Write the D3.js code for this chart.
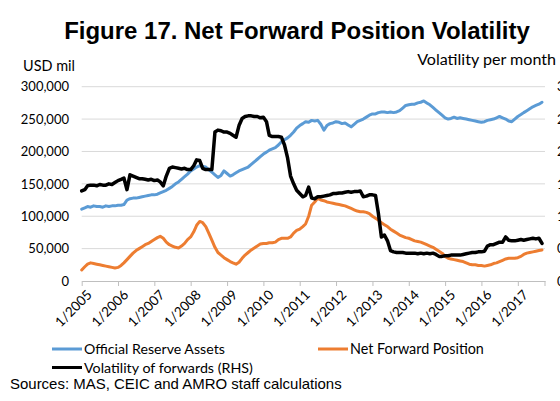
<!DOCTYPE html>
<html><head><meta charset="utf-8">
<script src="https://cdn.jsdelivr.net/npm/d3@7"></script>
<style>
html,body{margin:0;padding:0;background:#fff;}
svg{display:block;}
</style></head>
<body>
<svg id="chart" width="560" height="401"></svg>
<script>
// ---- Data (monthly, Jan 2005 - Sep 2017) ----
const startYear = 2005;
const reserveAssets = [ // USD bn (x1000 = USD mil)
  111,113,115,114,116,115,115,114,116,115,116,116,
  117,117,118,125,127,128,128,129,130,131,132,133,
  133,134,136,138,140,143,146,150,153,157,161,165,
  170,173,176,178,177,176,172,168,164,160,163,170,
  166,162,164,167,170,172,174,176,180,184,188,192,
  196,199,202,204,206,210,215,218,221,225,230,236,
  240,243,246,245,248,247,248,242,233,240,243,244,
  246,245,243,244,241,238,242,246,248,250,253,256,
  258,258,260,261,261,260,261,260,261,263,267,271,
  272,273,273,275,276,278,275,272,268,264,260,256,
  252,250,251,253,251,252,251,250,249,248,247,246,
  245,246,248,249,250,252,254,252,250,247,246,250,
  254,257,260,263,266,269,271,273,276
];
const netForward = [
  17,22,26,28,27,26,25,24,23,22,21,20,
  21,24,28,33,38,43,47,50,53,56,58,61,
  64,67,69,66,60,56,54,52,51,54,58,64,
  68,76,86,92,90,84,74,63,52,44,40,36,
  33,30,28,26,29,35,40,44,48,51,54,57,
  58,58,59,59,60,64,66,66,66,68,74,78,
  80,84,88,100,117,122,128,125,124,122,121,120,
  119,118,117,116,114,112,110,108,107,107,106,104,
  100,97,94,90,87,84,80,77,74,71,69,67,
  66,64,62,61,60,58,56,54,52,49,46,43,
  38,35,34,33,32,31,30,28,26,25,25,24,
  24,23,24,25,27,28,30,32,34,35,35,35,
  36,38,41,43,44,45,46,47,48
];
const volatility = [ // RHS
  1.39,1.41,1.47,1.48,1.48,1.47,1.49,1.48,1.48,1.50,1.49,1.52,
  1.55,1.57,1.59,1.41,1.64,1.62,1.60,1.58,1.58,1.57,1.56,1.57,
  1.55,1.56,1.53,1.47,1.62,1.74,1.76,1.75,1.74,1.73,1.74,1.72,
  1.72,1.78,1.87,1.86,1.74,1.72,1.72,1.72,2.30,2.33,2.32,2.30,
  2.30,2.28,2.25,2.22,2.40,2.51,2.54,2.55,2.55,2.54,2.54,2.52,
  2.53,2.46,2.25,2.23,2.23,2.23,2.22,2.10,1.90,1.62,1.50,1.40,
  1.35,1.30,1.32,1.45,1.28,1.27,1.30,1.30,1.31,1.32,1.33,1.35,
  1.35,1.36,1.36,1.37,1.38,1.37,1.38,1.38,1.39,1.30,1.31,1.33,
  1.33,1.32,1.05,0.68,0.71,0.62,0.47,0.45,0.44,0.44,0.44,0.43,
  0.43,0.43,0.43,0.42,0.43,0.42,0.43,0.42,0.43,0.41,0.38,0.38,
  0.39,0.39,0.40,0.40,0.40,0.40,0.41,0.42,0.43,0.44,0.44,0.45,
  0.45,0.46,0.54,0.56,0.56,0.58,0.60,0.60,0.68,0.63,0.62,0.62,
  0.63,0.64,0.63,0.64,0.65,0.66,0.65,0.66,0.58
];
const leftTicks = [0,50000,100000,150000,200000,250000,300000];
const rightTicks = [0,0.5,1,1.5,2,2.5,3];
const tickYears = [2005,2006,2007,2008,2009,2010,2011,2012,2013,2014,2015,2016,2017];
const seriesNames = ["Official Reserve Assets","Net Forward Position","Volatility of forwards (RHS)"];
const colors = ["#5b9bd5","#ed7d31","#000000"];
const title = "Figure 17. Net Forward Position Volatility";
const source = "Sources: MAS, CEIC and AMRO staff calculations";

// ---- Build ----
const svg = d3.select("#chart");
const font = "Lato, 'Noto Sans', sans-serif";
const dates = reserveAssets.map((d,i)=>new Date(startYear, i, 1));
const x = d3.scaleTime().domain([new Date(2005,0,1), new Date(2017,9,1)]).range([81.7,545]);
const yL = d3.scaleLinear().domain([0,300000]).range([281,86.7]);
const yR = d3.scaleLinear().domain([0,3]).range([281,86.7]);

function fit(sel, w){ const cw = sel.node().getComputedTextLength(); const fs = +sel.attr("font-size"); sel.attr("font-size", fs*w/cw); }

// title
const t = svg.append("text").attr("x",297).attr("y",38.5).attr("text-anchor","middle")
  .attr("font-family","'Liberation Sans', Arial, sans-serif").attr("font-weight","bold")
  .attr("font-size",21).attr("fill","#000").text(title);
fit(t, 466);

const u = svg.append("text").attr("x",23).attr("y",70.5).attr("font-family",font).attr("font-size",14).attr("fill","#000").text("USD mil");
fit(u, 52);
const v = svg.append("text").attr("x",556).attr("y",65).attr("text-anchor","end").attr("font-family",font).attr("font-size",14).attr("fill","#000").text("Volatility per month");
fit(v, 139);

// gridlines
svg.append("g").selectAll("line").data(leftTicks.slice(1)).join("line")
  .attr("x1",81.7).attr("x2",545).attr("y1",d=>yL(d)).attr("y2",d=>yL(d))
  .attr("stroke","#d9d9d9").attr("stroke-width",1);

// x axis
const xAxis = d3.axisBottom(x).tickValues(tickYears.map(yr=>new Date(yr,0,1)))
  .tickFormat(d=>"1/"+d.getFullYear()).tickSize(5).tickSizeOuter(0);
const gx = svg.append("g").attr("transform","translate(0,281)").call(xAxis);
gx.select(".domain").attr("stroke","#bfbfbf");
gx.selectAll(".tick line").attr("stroke","#bfbfbf");
gx.append("line").attr("x1",545).attr("x2",545).attr("y1",0).attr("y2",5).attr("stroke","#bfbfbf");
gx.selectAll(".tick text").attr("font-family",font).attr("font-size",13.5).attr("fill","#000")
  .attr("text-anchor","end").attr("dx",0).attr("dy",0)
  .attr("transform","translate(5,9) rotate(-45)");

// left axis
const gl = svg.append("g").attr("transform","translate(70,0)")
  .call(d3.axisLeft(yL).tickValues(leftTicks).tickFormat(d3.format(",")).tickSize(0));
gl.select(".domain").remove();
gl.selectAll("text").attr("font-family",font).attr("font-size",13).attr("fill","#000").attr("x",-1);

// right axis (clipped at chart edge as in reference)
const gr = svg.append("g").attr("transform","translate(556,0)")
  .call(d3.axisRight(yR).tickValues(rightTicks).tickFormat(d3.format(".1f")).tickSize(0));
gr.select(".domain").remove();
gr.selectAll("text").attr("font-family",font).attr("font-size",13).attr("fill","#000").attr("x",1);

// lines
const lineL = d3.line().x((d,i)=>x(dates[i])).y(d=>yL(d*1000));
const lineR = d3.line().x((d,i)=>x(dates[i])).y(d=>yR(d));
svg.append("path").datum(reserveAssets).attr("d",lineL).attr("fill","none").attr("stroke",colors[0]).attr("stroke-width",3).attr("stroke-linejoin","round").attr("stroke-linecap","round");
svg.append("path").datum(netForward).attr("d",lineL).attr("fill","none").attr("stroke",colors[1]).attr("stroke-width",3).attr("stroke-linejoin","round").attr("stroke-linecap","round");
svg.append("path").datum(volatility).attr("d",lineR).attr("fill","none").attr("stroke",colors[2]).attr("stroke-width",3.5).attr("stroke-linejoin","round").attr("stroke-linecap","round");

// legend
const legend = [
  {name:seriesNames[0], c:colors[0], x:52, y:349, w:141},
  {name:seriesNames[1], c:colors[1], x:318, y:349, w:134},
  {name:seriesNames[2], c:colors[2], x:52, y:367.5, w:169}
];
const lg = svg.append("g").selectAll("g").data(legend).join("g");
lg.append("line").attr("x1",d=>d.x).attr("x2",d=>d.x+30).attr("y1",d=>d.y).attr("y2",d=>d.y)
  .attr("stroke",d=>d.c).attr("stroke-width",3);
lg.append("text").attr("x",d=>d.x+32).attr("y",d=>d.y+5).attr("font-family",font).attr("font-size",14)
  .attr("fill","#000").text(d=>d.name).each(function(d){ fit(d3.select(this), d.w); });

const s = svg.append("text").attr("x",10).attr("y",388.5).attr("font-family","'Liberation Sans', Arial, sans-serif")
  .attr("font-size",14).attr("fill","#000").text(source);
fit(s, 332);
</script>
</body></html>
